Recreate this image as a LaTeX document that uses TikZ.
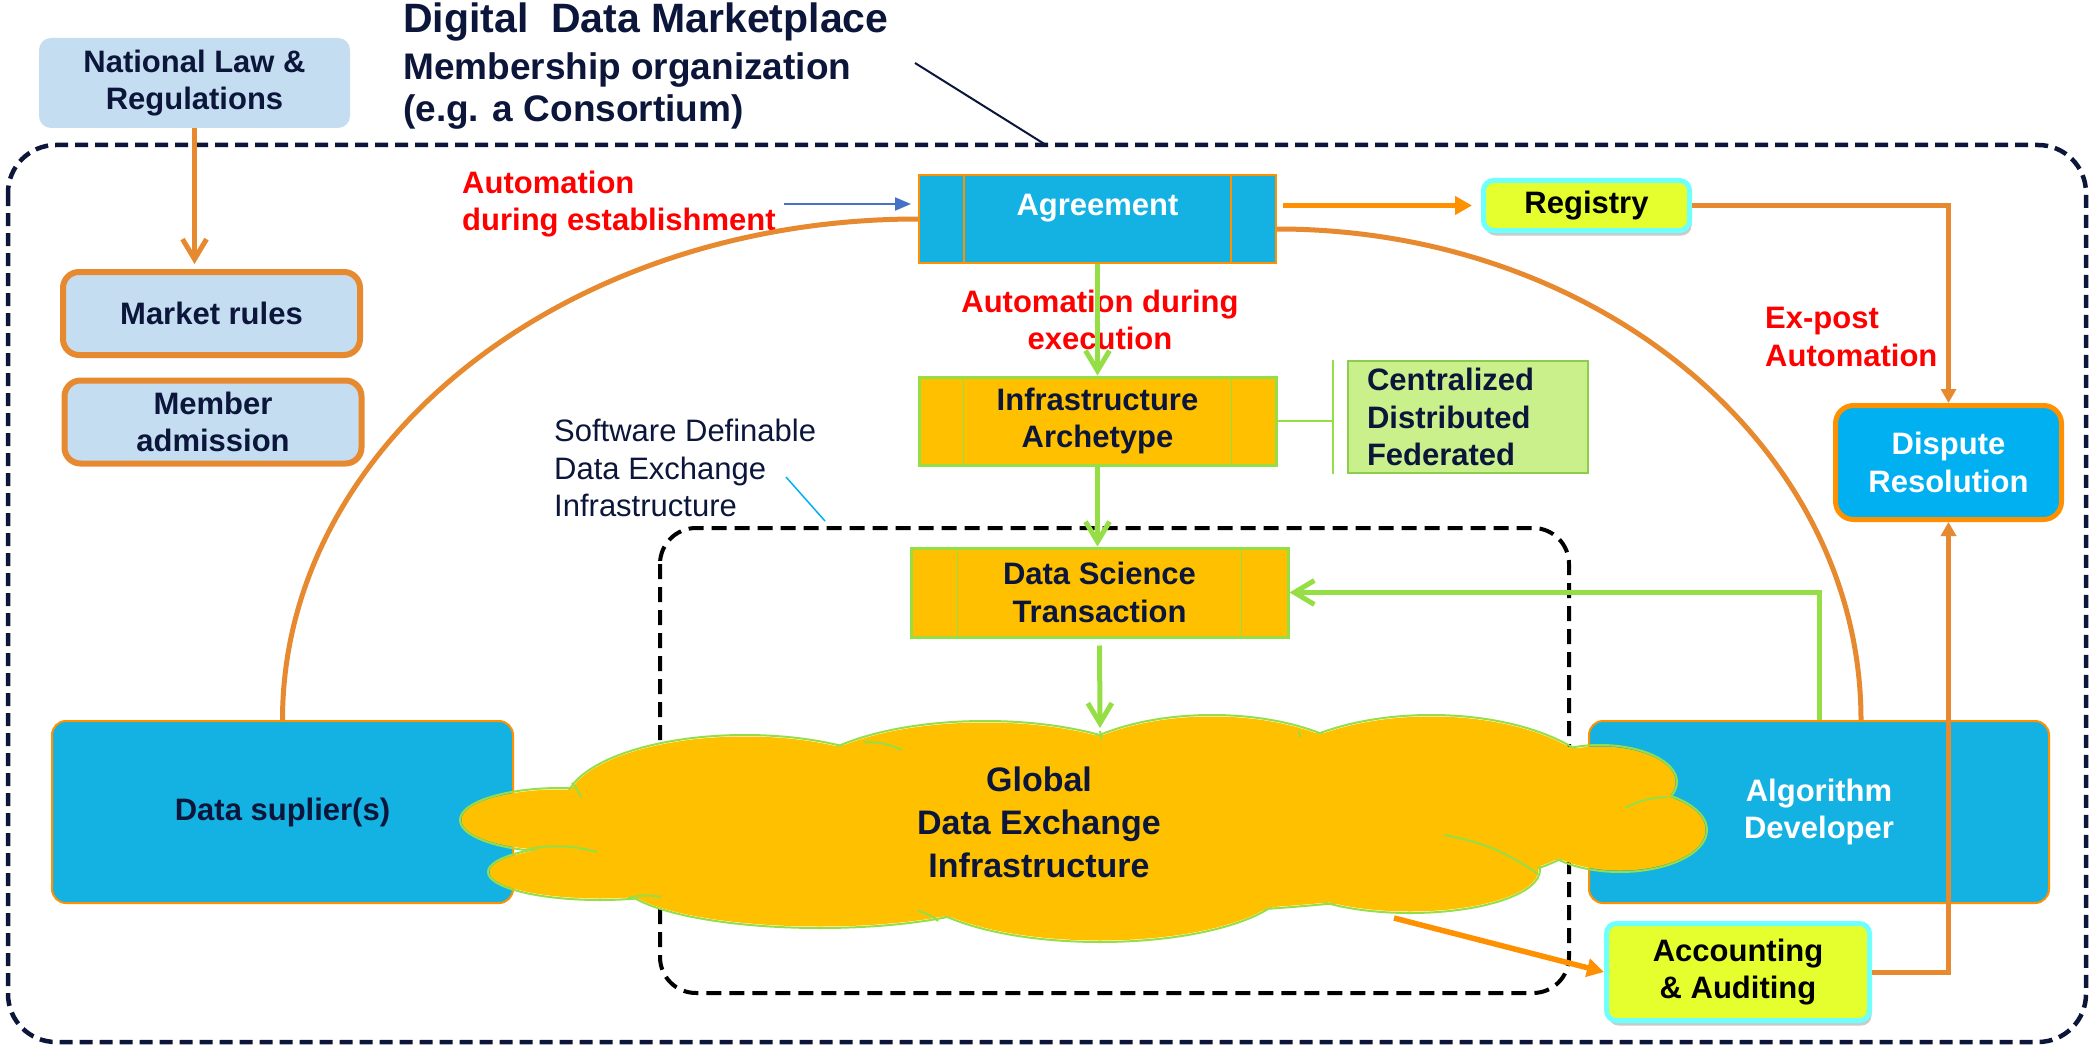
\documentclass[tikz,border=0pt]{standalone}
\usepackage{fontspec}
\setmainfont{Liberation Sans}
\usetikzlibrary{positioning}
\usetikzlibrary{arrows.meta}
\usetikzlibrary{shadows}

\definecolor{navy}{RGB}{12,22,58}
\definecolor{lineorange}{RGB}{230,137,47}
\definecolor{brightorange}{RGB}{255,145,0}
\definecolor{boxblue}{RGB}{20,178,226}
\definecolor{dispblue}{RGB}{0,176,240}
\definecolor{lawblue}{RGB}{197,221,241}
\definecolor{goldfill}{RGB}{255,192,0}
\definecolor{arrowgreen}{RGB}{150,222,70}
\definecolor{boxgreen}{RGB}{140,205,80}
\definecolor{palegreen}{RGB}{202,240,140}
\definecolor{lemon}{RGB}{229,255,46}
\definecolor{aqua}{RGB}{110,255,255}
\definecolor{linkblue}{RGB}{68,114,196}

\tikzset{
  boxtxt/.style={font=\bfseries\fontsize{31}{37.5}\selectfont, align=center, inner sep=0pt},
  lawbox/.style={boxtxt, fill=lawblue, text=navy, rounded corners=12pt},
  rulebox/.style={lawbox, draw=lineorange, line width=6pt, rounded corners=16pt, minimum width=297pt, minimum height=83pt},
  bluebox/.style={boxtxt, fill=boxblue, draw=brightorange, line width=2pt, rounded corners=14pt, minimum width=461pt, minimum height=182pt},
  procbox/.style={boxtxt, fill=goldfill, draw=arrowgreen, line width=3pt, text=navy, minimum width=357pt, minimum height=88pt},
  limebox/.style={boxtxt, fill=lemon, draw=aqua, line width=5pt, rounded corners=10pt, drop shadow={shadow xshift=2pt, shadow yshift=-5pt, opacity=0.35, fill=black!60}},
  redtxt/.style={font=\bfseries\fontsize{31}{37.5}\selectfont, text=red, inner sep=0pt},
  orangeline/.style={draw=lineorange, line width=5pt},
  orangearrow/.style={draw=brightorange, line width=5.5pt, -{Triangle[length=17pt,width=18pt]}},
  greenarrow/.style={draw=arrowgreen, line width=5pt, -{Straight Barb[length=20pt,width=24pt]}},
  greenthin/.style={draw=arrowgreen, line width=2pt},
  cloudline/.style={draw=arrowgreen, line width=2pt},
  ttltxt/.style={text=navy, inner sep=0pt, anchor=base west}
}

\def\cloudlobes{560/820/100/32, 600/872/112/28, 745/805/180/70, 985/790/190/69, 1212/795/170/80, 1431/800/180/85, 1600/782/77/37, 1620/830/87/42, 1410/870/130/43, 1100/880/190/62, 820/880/200/48, 1080/830/500/85}

\begin{document}
\begin{tikzpicture}[x=1pt, y=-1pt]
\useasboundingbox (0,0) rectangle (2089,1046);
\draw[navy, line width=4.5pt, dash pattern=on 13pt off 7pt, rounded corners=48pt] (8,145) rectangle (2086,1042);
\draw[black, line width=4pt, dash pattern=on 15pt off 8pt, rounded corners=36pt] (660,528) rectangle (1569,993);

\node[ttltxt, font=\bfseries\fontsize{41}{44}\selectfont] (ttl1) at (403,33) {Digital~ Data Marketplace};
\node[ttltxt, font=\bfseries\fontsize{37}{44}\selectfont] (ttl2) at (403,80) {Membership organization};
\node[ttltxt, font=\bfseries\fontsize{37}{44}\selectfont] (ttl3) at (403,122) {(e.g. a Consortium)};

\node[lawbox, minimum width=311pt, minimum height=90pt] (natlaw) at (194.5,83) {National Law \&\\Regulations};
\node[rulebox] (market) at (211.5,313.5) {Market rules};
\node[rulebox] (member) at (213,422) {Member\\admission};
\node[procbox, fill=boxblue, draw=brightorange, line width=2pt, text=white, text height=40pt, text depth=48pt] (agreement) at (1097.5,219) {Agreement};
\node[procbox] (infra) at (1097.5,421) {Infrastructure\\Archetype};
\node[procbox, minimum width=377pt, minimum height=89pt] (dst) at (1099.5,592.5) {Data Science\\Transaction};
\node[limebox, minimum width=206pt, minimum height=50pt] (registry) at (1586.5,205.5) {Registry};
\node[boxtxt, fill=dispblue, draw=brightorange, line width=5pt, rounded corners=18pt, text=white, minimum width=226pt, minimum height=114pt] (dispute) at (1948.5,462.5) {Dispute\\Resolution};
\node[boxtxt, fill=palegreen, draw=boxgreen, line width=2pt, text=navy, align=left, text width=202pt, inner xsep=19pt, minimum height=112pt] (archtypes) at (1468,417) {Centralized\\Distributed\\Federated};
\node[bluebox, text=navy] (supplier) at (282.5,812) {Data suplier(s)};
\node[bluebox, minimum width=460pt, text=white] (algo) at (1819,812) {Algorithm\\Developer};
\node[limebox, minimum width=263pt, minimum height=97pt] (accounting) at (1738,972) {Accounting\\\& Auditing};

\foreach \n/\d/\c in {agreement/46/brightorange, infra/46/arrowgreen, dst/48/arrowgreen}
  \draw[\c, line width=1.5pt] ([xshift=\d pt]\n.north west) -- ([xshift=\d pt]\n.south west)
    ([xshift=-\d pt]\n.north east) -- ([xshift=-\d pt]\n.south east);

\foreach \cx/\cy/\rx/\ry in \cloudlobes
  \draw[cloudline] (\cx,\cy) ellipse [x radius=\rx, y radius=\ry];
\foreach \cx/\cy/\rx/\ry in \cloudlobes
  \fill[goldfill] (\cx,\cy) ellipse [x radius=\rx-1.5, y radius=\ry-1.5];
\foreach \ax/\ay/\bx/\by in {864/742/902/750, 572/783/581/798, 529/849/597/852, 628/898/661/897, 918/911/938/921, 1100/731/1101/739, 1299/731/1300/737, 1625/808/1667/797, 1444/835/1538/874}
  \draw[cloudline] (\ax,\ay) to[bend left=12] (\bx,\by);
\node[boxtxt, font=\bfseries\fontsize{34}{43}\selectfont, text=navy] (globaltxt) at (1039,822) {Global\\Data Exchange\\Infrastructure};
\coordinate (cloudtop) at (1100,728);
\coordinate (cloudfoot) at (1394,918);

\node[redtxt, align=left, anchor=west] (autoest) at (462,204) {Automation\\during establishment};
\node[redtxt, align=center] (autoexe) at (1100,320) {Automation during\\execution};
\node[redtxt, align=left, anchor=west] (expost) at (1765,337) {Ex-post\\Automation};
\node[font=\fontsize{31}{37.5}\selectfont, text=navy, align=left, anchor=west, inner sep=0pt] (sdxlbl) at (554,468) {Software Definable\\Data Exchange\\Infrastructure};

\draw[orangeline, -{Straight Barb[length=20pt,width=24pt]}, shorten >=5pt] (natlaw.south) -- (natlaw.south |- market.north);
\draw[orangeline] (supplier.north) .. controls +(0,-277) and +(-352,0) .. (agreement.west);
\draw[orangeline] ([yshift=-10pt]agreement.east) .. controls +(323,0) and +(0,-272) .. ([xshift=42pt]algo.north);
\draw[orangearrow, shorten <=6pt, shorten >=9pt] (agreement.east |- registry.west) -- (registry.west);
\draw[orangeline, -{Triangle[length=14pt,width=15pt]}] (registry.east) -| (dispute.north);
\draw[orangeline, -{Triangle[length=14pt,width=15pt]}] (accounting.east) -| (dispute.south);
\draw[orangearrow] (cloudfoot) -- (accounting.west);
\draw[greenarrow] (agreement.south) -- (infra.north);
\draw[greenarrow] (infra.south) -- (infra.south |- dst.north);
\draw[greenarrow, shorten <=7pt] (dst.south) -- (cloudtop);
\draw[greenarrow] (algo.north) |- (dst.east);
\coordinate (brk) at (1333,417);
\draw[greenthin] (infra.east) -- (infra.east -| brk);
\draw[greenthin] (brk |- archtypes.north) -- (brk |- archtypes.south);
\draw[linkblue, line width=2pt, -{Triangle[length=16pt,width=13pt]}, shorten <=8pt, shorten >=7pt] (autoest.east) -- (autoest.east -| agreement.west);
\coordinate (ldra) at (915,63);
\coordinate (ldrb) at (1046,145);
\draw[navy, line width=2pt] (ldra) -- (ldrb);
\coordinate (sdxa) at (786,477);
\coordinate (sdxb) at (825,521);
\draw[dispblue, line width=1.5pt] (sdxa) -- (sdxb);
\end{tikzpicture}
\end{document}
